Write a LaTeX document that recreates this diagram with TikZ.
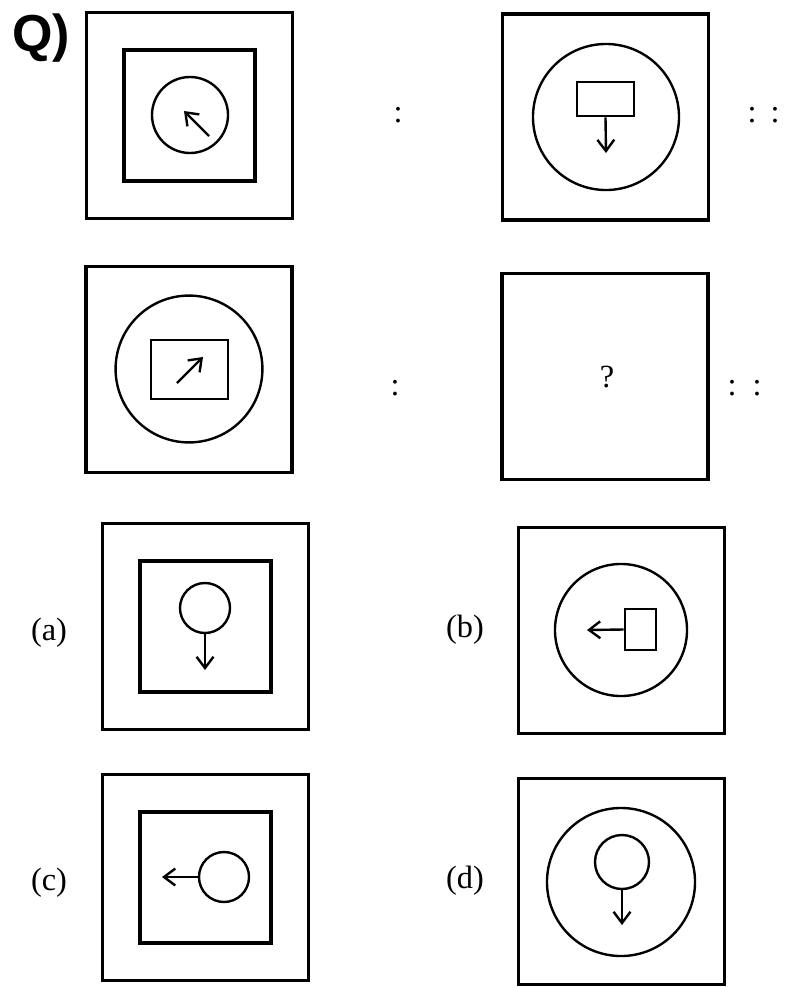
\documentclass[tikz,border=0pt]{standalone}
\usepackage{fontspec}
\setmainfont{Liberation Serif}
\newfontfamily\qfont{Liberation Sans}
\usetikzlibrary{arrows.meta,positioning}

\begin{document}
\begin{tikzpicture}[
    x=0.025cm, y=-0.025cm,
    sqbox/.style={draw, line width=2.6pt, minimum size=5.15cm, inner sep=0pt},
    inbox/.style={draw, line width=2.6pt, minimum size=3.275cm, inner sep=0pt},
    ring/.style={draw, circle, line width=1.7pt, inner sep=0pt},
    tag/.style={draw, line width=1.9pt, inner sep=0pt},
    arrow/.style={line width=1.7pt, -{Straight Barb[length=8pt, width=12pt]}},
    lbl/.style={font=\fontsize{23}{23}\selectfont, inner sep=0pt}
]
    \useasboundingbox (0,0) rectangle (790,987);

    \node[anchor=base west, inner sep=0pt, font=\qfont\bfseries\fontsize{37}{37}\selectfont] (qmark) at (12,51) {Q)};

    % first pair
    \node[sqbox] (q1) at (189.5,115.5) {};
    \node[inbox] (q1in) at (q1.center) {};
    \node[ring, minimum size=1.9cm] (q1c) at (190,115) {};
    \coordinate (q1s) at (209,136);
    \coordinate (q1e) at (184,111);
    \draw[arrow] (q1s) -- (q1e);

    \node[lbl] (sep1) at (398,115) {:};

    \node[sqbox] (q2) at (605.5,117) {};
    \node[ring, minimum size=3.65cm] (q2c) at (606,117) {};
    \node[tag, minimum width=1.425cm, minimum height=0.85cm] (q2r) at (605.5,99) {};
    \coordinate (q2e) at (606,153);
    \draw[arrow] (q2r.south) -- (q2e);

    \node[lbl] (dd1a) at (752,115) {:};
    \node[lbl] (dd1b) at (775,115) {:};

    % second pair
    \node[sqbox] (q3) at (189,369.5) {};
    \node[ring, minimum size=3.67cm] (q3c) at (189,369) {};
    \node[tag, minimum width=1.925cm, minimum height=1.475cm] (q3r) at (189.5,369.5) {};
    \coordinate (q3s) at (177,383);
    \coordinate (q3e) at (203,357);
    \draw[arrow] (q3s) -- (q3e);

    \node[lbl] (sep2) at (395,388) {:};

    \node[sqbox] (q4) at (605,376.5) {};
    \node[lbl] (qq) at (607,377) {?};

    \node[lbl] (dd2a) at (732,388) {:};
    \node[lbl] (dd2b) at (757,388) {:};

    % options
    \node[sqbox] (oa) at (205.5,626.5) {};
    \node[inbox] (oain) at (oa.center) {};
    \node[ring, minimum size=1.25cm] (oac) at (205,608) {};
    \coordinate (oae) at (205,670);
    \draw[arrow] (oac.south) -- (oae);
    \node[lbl] (la) at (49,633) {(a)};

    \node[sqbox] (ob) at (621.5,630.5) {};
    \node[ring, minimum size=3.3cm] (obc) at (621,630) {};
    \node[tag, minimum width=0.775cm, minimum height=1.025cm] (obr) at (640.5,629.5) {};
    \coordinate (obe) at (587,630);
    \draw[arrow] (obr.west) -- (obe);
    \node[lbl] (lb) at (465,630) {(b)};

    \node[sqbox] (oc) at (205.5,877.5) {};
    \node[inbox] (ocin) at (oc.center) {};
    \node[ring, minimum size=1.25cm] (occ) at (224,877) {};
    \coordinate (oce) at (162,877);
    \draw[arrow] (occ.west) -- (oce);
    \node[lbl] (lc) at (49,883) {(c)};

    \node[sqbox] (od) at (621.5,881.5) {};
    \node[ring, minimum size=3.7cm] (odc) at (621,882) {};
    \node[ring, minimum size=1.35cm] (ods) at (622,862) {};
    \coordinate (ode) at (622,925);
    \draw[arrow] (ods.south) -- (ode);
    \node[lbl] (ld) at (465,881) {(d)};
\end{tikzpicture}
\end{document}
